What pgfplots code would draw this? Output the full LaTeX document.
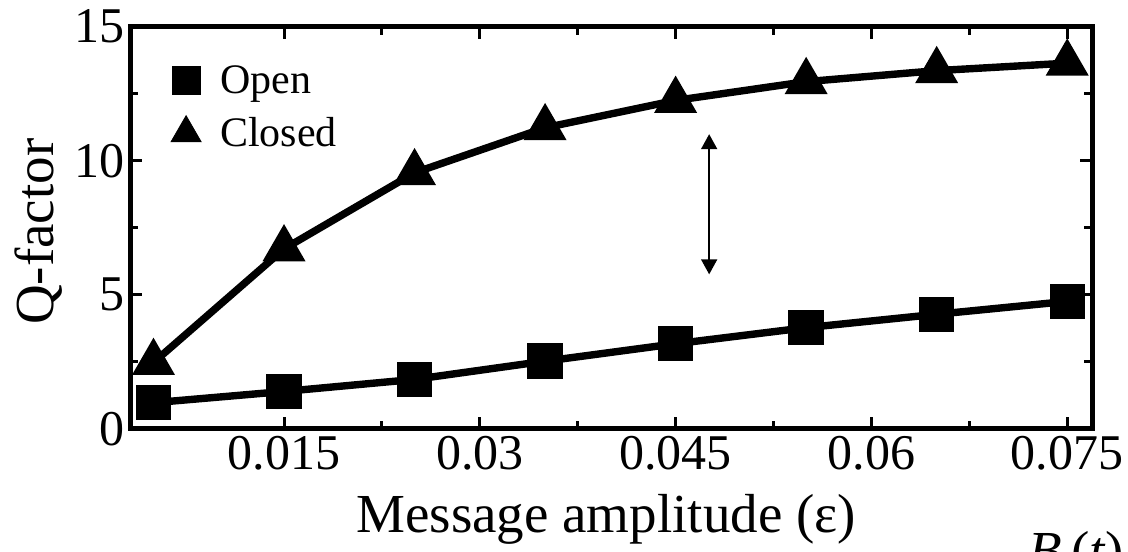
\documentclass[border=0pt]{standalone}
\usepackage{fontspec}
\setmainfont{Liberation Serif}
\usepackage{pgfplots}
\pgfplotsset{compat=1.18}
\usetikzlibrary{arrows.meta}

\begin{document}
\begin{tikzpicture}
\useasboundingbox (0,0) rectangle (564pt,275.5pt);
\begin{axis}[
  at={(65pt,61.15pt)}, anchor=south west,
  scale only axis, width=481pt, height=201pt,
  xmin=0.0032, xmax=0.0769,
  ymin=0, ymax=15,
  scaled x ticks=false,
  xtick={0.015,0.03,0.045,0.06,0.075},
  xticklabels={0.015,0.03,0.045,0.06,0.075},
  ytick={0,5,10,15},
  minor x tick num=1, minor y tick num=1,
  tick align=inside,
  major tick length=6pt, minor tick length=4pt,
  every tick/.style={black, line width=1.5pt},
  axis line style={line width=2.5pt},
  /pgf/number format/assume math mode=true,
  ticklabel style={font=\fontsize{25}{30}\selectfont},
  yticklabel style={xshift=1pt},
  xlabel={Message amplitude (ε)},
  ylabel={Q-factor},
  label style={font=\fontsize{27.5}{33}\selectfont},
  xlabel style={at={(axis description cs:0.495,-0.2574)}, anchor=base},
  ylabel style={at={(axis description cs:-0.080,0.49)}, anchor=base},
  legend style={at={(axis description cs:0.036,0.925)}, anchor=north west,
    draw=none, fill=none, font=\fontsize{21}{25}\selectfont,
    row sep=6.5pt,
    /tikz/every odd column/.append style={column sep=7.5pt}},
  legend cell align=left,
  clip=false,
]
% Open loop
\addplot[black, line width=3.7pt, mark=square*, mark size=7pt,
  mark options={solid}, forget plot] coordinates {
  (0.005,0.97) (0.015,1.39) (0.025,1.84) (0.035,2.52)
  (0.045,3.17) (0.055,3.77) (0.065,4.27) (0.075,4.75)
};
% Closed loop
\addplot[black, line width=3.7pt, mark=triangle*, mark size=8.7pt,
  mark options={solid}, forget plot] coordinates {
  (0.005,2.47) (0.015,6.71) (0.025,9.55) (0.035,11.23)
  (0.045,12.25) (0.055,12.95) (0.065,13.36) (0.075,13.64)
};
\addlegendimage{only marks, black, mark=square*, mark size=7pt}
\addlegendentry{Open}
\addlegendimage{only marks, black, mark=triangle*, mark size=8.7pt}
\addlegendentry{Closed}
% gap between the two curves
\draw[line width=0.9pt, {Triangle[width=8pt,length=7.5pt]}-{Triangle[width=8pt,length=7.5pt]}]
  (axis cs:0.04757,10.99) -- (axis cs:0.04757,5.76);
\end{axis}
\node[anchor=base west, inner sep=0pt, font=\fontsize{27.5}{33}\selectfont]
  at (514pt,-9pt) {\textit{B}\,(\textit{t})};
\end{tikzpicture}
\end{document}
